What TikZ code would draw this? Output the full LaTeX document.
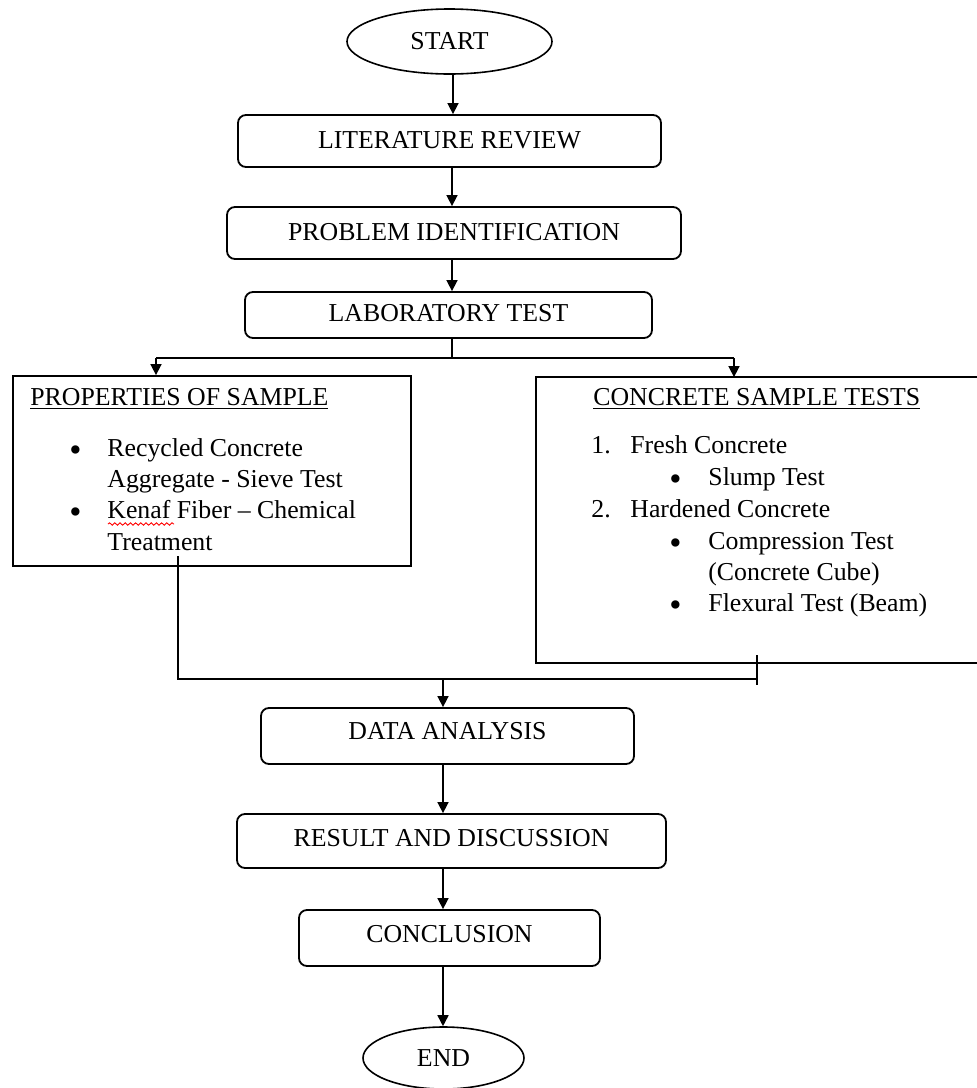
\documentclass[tikz,border=0pt]{standalone}
\usepackage{fontspec}
\usepackage{graphicx}
\setmainfont{Liberation Serif}
\usetikzlibrary{arrows.meta,shapes.geometric,decorations.pathmorphing}
\newcommand{\bigbul}{\raisebox{-2.6pt}{\scalebox{1.35}{\textbullet}}}
\begin{document}
\begin{tikzpicture}[x=0.5pt,y=-0.5pt,
  font=\fontsize{12.9pt}{16pt}\selectfont,
  rbox/.style={draw, rounded corners=4pt, inner sep=0pt, line width=0.9pt},
  oval/.style={draw, ellipse, inner sep=0pt, line width=0.8pt},
  sq/.style={inner sep=0pt, line width=0.9pt},
  txt/.style={anchor=base west, inner sep=0pt},
  arr/.style={-{Triangle[length=5.5pt,width=5.5pt]}, line width=0.8pt},
  ln/.style={line width=0.8pt}]
\useasboundingbox (0,0) rectangle (977,1088);

% main flow nodes
\node[oval, minimum width=102.5pt, minimum height=32.5pt] (start) at (449.5,41.5) {START};
\node[rbox, minimum width=211.5pt, minimum height=26pt, text depth=1.5pt] (lit) at (449.5,141) {LITERATURE REVIEW};
\node[rbox, minimum width=227pt, minimum height=26pt, text depth=1.5pt] (prob) at (454,233) {PROBLEM IDENTIFICATION};
\node[rbox, minimum width=203.5pt, minimum height=23pt, text depth=2pt] (lab) at (448.5,315) {LABORATORY TEST};

% left box
\node[draw, sq, minimum width=199pt, minimum height=95pt] (props) at (212,471) {};
\node[txt] (pt) at (30,405) {\underline{PROPERTIES OF SAMPLE}};
\node[txt] (b1) at (69,456) {\bigbul};
\node[txt] (p1) at (107,456) {Recycled Concrete};
\node[txt] (p2) at (107,487) {Aggregate - Sieve Test};
\node[txt] (b2) at (69,518) {\bigbul};
\node[txt] (p3) at (107,518) {Kenaf Fiber – Chemical};
\node[txt] (p4) at (107,550) {Treatment};
\coordinate (kw1) at (108,524);
\coordinate (kw2) at (174,524);
\draw[red, line width=0.45pt, decorate, decoration={snake, amplitude=0.6pt, segment length=2.6pt}] (kw1) -- (kw2);

% right box (open at the right edge)
\node[sq, minimum width=220pt, minimum height=142pt] (tests) at (757,520) {};
\draw[line width=0.9pt] (tests.north east) -- (tests.north west) -- (tests.south west) -- (tests.south east);
\node[txt] (tt) at (593,405) {\underline{CONCRETE SAMPLE TESTS}};
\node[txt] (n1) at (591,453) {1.};
\node[txt] (t1) at (630,453) {Fresh Concrete};
\node[txt] (b3) at (669,485) {\bigbul};
\node[txt] (t2) at (708,485) {Slump Test};
\node[txt] (n2) at (591,517) {2.};
\node[txt] (t3) at (630,517) {Hardened Concrete};
\node[txt] (b4) at (669,549) {\bigbul};
\node[txt] (t4) at (708,549) {Compression Test};
\node[txt] (t5) at (708,580) {(Concrete Cube)};
\node[txt] (b5) at (669,611) {\bigbul};
\node[txt] (t6) at (708,611) {Flexural Test (Beam)};

% lower flow nodes
\node[rbox, minimum width=186.5pt, minimum height=28pt, text depth=5pt] (da) at (447.5,736) {DATA ANALYSIS};
\node[rbox, minimum width=214.5pt, minimum height=27pt, text depth=3pt] (res) at (451.5,841) {RESULT AND DISCUSSION};
\node[rbox, minimum width=150.5pt, minimum height=28pt, text depth=4pt] (conc) at (449.5,938) {CONCLUSION};
\node[oval, minimum width=80.5pt, minimum height=31pt] (end) at (443.5,1058) {END};

% helper coordinates
\coordinate (cx1) at (453,0);
\coordinate (cx2) at (452,0);
\coordinate (cx3) at (443,0);
\coordinate (jm) at (452,358);
\coordinate (jl) at (156,358);
\coordinate (jr) at (734,358);
\coordinate (ptop) at (178,556);
\coordinate (bl) at (178,679);
\coordinate (br) at (757,679);
\coordinate (bm) at (443,679);
\coordinate (tk1) at (757,655);
\coordinate (tk2) at (757,685);

% connectors
\draw[arr] (start.south -| cx1) -- (lit.north -| cx1);
\draw[arr] (lit.south -| cx2) -- (prob.north -| cx2);
\draw[arr] (prob.south -| cx2) -- (lab.north -| cx2);
\draw[ln] (lab.south -| cx2) -- (jm);
\draw[ln] (jl) -- (jr);
\draw[arr] (jl) -- (jl |- props.north);
\draw[arr] (jr) -- (jr |- tests.north);
\draw[ln] (ptop) -- (bl) -- (br);
\draw[ln] (tk1) -- (tk2);
\draw[arr] (bm) -- (bm |- da.north);
\draw[arr] (da.south -| cx3) -- (res.north -| cx3);
\draw[arr] (res.south -| cx3) -- (conc.north -| cx3);
\draw[arr] (conc.south -| cx3) -- (end.north -| cx3);
\end{tikzpicture}
\end{document}
